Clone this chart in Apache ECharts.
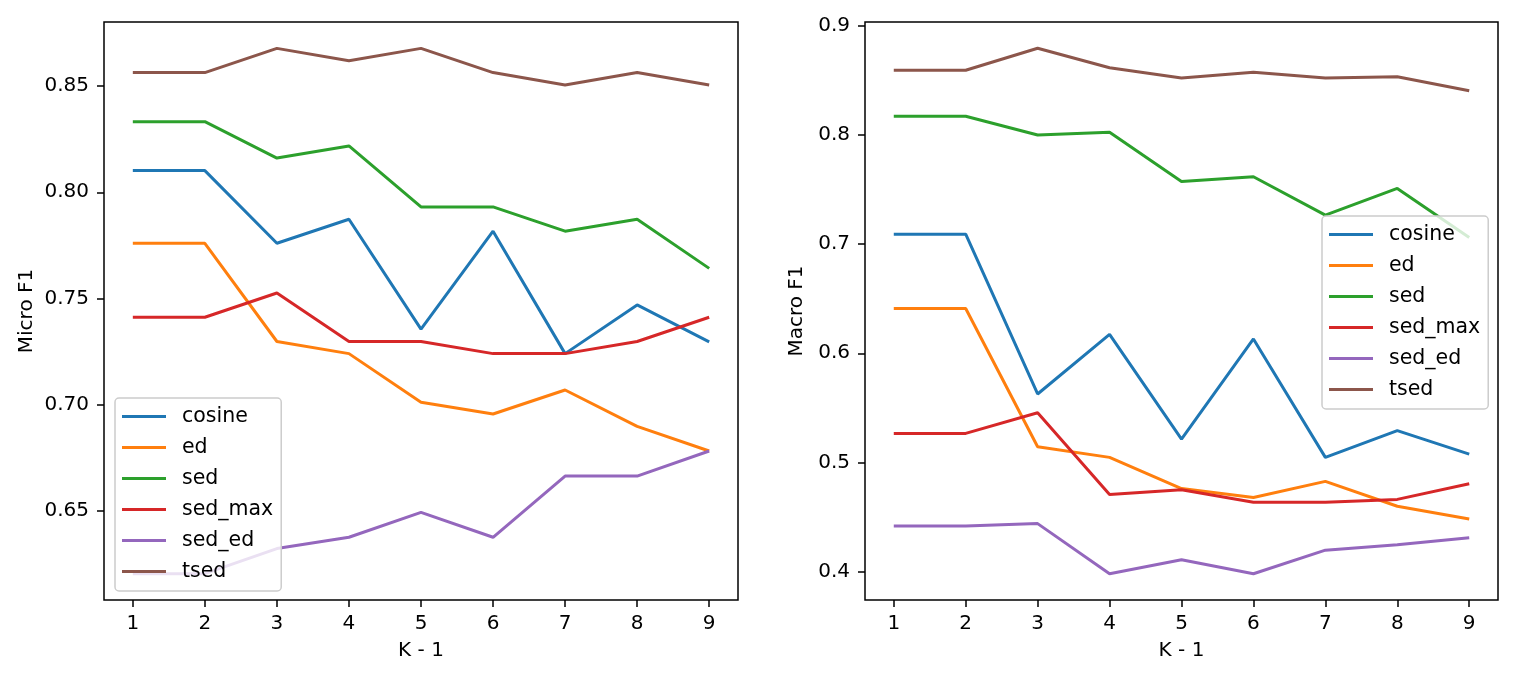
<!DOCTYPE html>
<html>
<head>
    <meta charset="utf-8">
    <title>Micro / Macro F1</title>
    <script src="https://cdn.jsdelivr.net/npm/echarts@6/dist/echarts.min.js"></script>
    <style>
        html, body { margin: 0; padding: 0; background: #fff; }
    </style>
</head>
<body>
    <div id="main" style="width: 1522px; height: 679px;"></div>
    <script type="text/javascript">
        // x values (K - 1)
        var ks = [1, 2, 3, 4, 5, 6, 7, 8, 9];
        var names = ['cosine', 'ed', 'sed', 'sed_max', 'sed_ed', 'tsed'];
        var colors = ['#1f77b4', '#ff7f0e', '#2ca02c', '#d62728', '#9467bd', '#8c564b'];

        // left plot: Micro F1
        var microCosine = [0.8102, 0.8102, 0.7760, 0.7873, 0.7356, 0.7817, 0.7241, 0.7470, 0.7296];
        var microEd     = [0.7760, 0.7760, 0.7298, 0.7241, 0.7012, 0.6957, 0.7070, 0.6899, 0.6783];
        var microSed    = [0.8332, 0.8332, 0.8161, 0.8218, 0.7931, 0.7931, 0.7817, 0.7873, 0.7642];
        var microSedMax = [0.7412, 0.7412, 0.7526, 0.7298, 0.7298, 0.7241, 0.7241, 0.7298, 0.7412];
        var microSedEd  = [0.6206, 0.6206, 0.6324, 0.6377, 0.6494, 0.6377, 0.6665, 0.6665, 0.6783];
        var microTsed   = [0.8563, 0.8563, 0.8677, 0.8619, 0.8677, 0.8563, 0.8505, 0.8563, 0.8505];

        // right plot: Macro F1
        var macroCosine = [0.7092, 0.7092, 0.5627, 0.6174, 0.5214, 0.6131, 0.5046, 0.5291, 0.5076];
        var macroEd     = [0.6410, 0.6410, 0.5144, 0.5046, 0.4760, 0.4678, 0.4826, 0.4598, 0.4481];
        var macroSed    = [0.8172, 0.8172, 0.8000, 0.8025, 0.7575, 0.7618, 0.7266, 0.7511, 0.7061];
        var macroSedMax = [0.5266, 0.5266, 0.5455, 0.4706, 0.4750, 0.4634, 0.4634, 0.4661, 0.4805];
        var macroSedEd  = [0.4417, 0.4417, 0.4439, 0.3980, 0.4108, 0.3980, 0.4196, 0.4245, 0.4309];
        var macroTsed   = [0.8594, 0.8594, 0.8795, 0.8617, 0.8523, 0.8575, 0.8523, 0.8535, 0.8406];

        // tick labels
        var xTicks = [1, 2, 3, 4, 5, 6, 7, 8, 9];
        var microTicks = [0.65, 0.70, 0.75, 0.80, 0.85];
        var macroTicks = [0.4, 0.5, 0.6, 0.7, 0.8, 0.9];

        var microData = [microCosine, microEd, microSed, microSedMax, microSedEd, microTsed];
        var macroData = [macroCosine, macroEd, macroSed, macroSedMax, macroSedEd, macroTsed];

        var font = 'DejaVu Sans';
        var fs = 20;

        function pairs(arr) {
            return ks.map(function (k, i) { return [k, arr[i]]; });
        }

        function xAxisFor(idx) {
            return {
                type: 'value', gridIndex: idx, min: 0.6, max: 9.4,
                name: 'K - 1', nameLocation: 'middle', nameGap: 41,
                nameTextStyle: { color: '#000', fontFamily: font, fontSize: fs },
                axisLine: { show: false },
                splitLine: { show: false },
                axisTick: { show: true, length: 7, lineStyle: { color: '#000', width: 1.5 }, customValues: xTicks },
                axisLabel: { color: '#000', fontFamily: font, fontSize: fs, margin: 14, customValues: xTicks }
            };
        }

        function yAxisFor(idx, min, max, ticks, digits, name, gap) {
            return {
                type: 'value', gridIndex: idx, min: min, max: max,
                name: name, nameLocation: 'middle', nameGap: gap, nameRotate: 90,
                nameTextStyle: { color: '#000', fontFamily: font, fontSize: fs },
                axisLine: { show: false },
                splitLine: { show: false },
                axisTick: { show: true, length: 7, lineStyle: { color: '#000', width: 1.5 }, customValues: ticks },
                axisLabel: {
                    color: '#000', fontFamily: font, fontSize: fs, margin: 15, customValues: ticks,
                    formatter: function (v) { return v.toFixed(digits); }
                }
            };
        }

        function legendAt(left, top) {
            return {
                orient: 'vertical', left: left, top: top,
                data: names,
                icon: 'rect', itemWidth: 44, itemHeight: 3, itemGap: 10,
                padding: [8, 8, 9, 7],
                backgroundColor: 'rgba(255,255,255,0.8)',
                borderColor: '#cccccc', borderWidth: 1.5, borderRadius: 4,
                textStyle: { color: '#000', fontFamily: font, fontSize: 20.5, padding: [0, 0, 0, 11] }
            };
        }

        var series = [];
        [microData, macroData].forEach(function (group, g) {
            group.forEach(function (arr, i) {
                series.push({
                    name: names[i], type: 'line',
                    xAxisIndex: g, yAxisIndex: g,
                    data: pairs(arr),
                    showSymbol: false, symbol: 'none',
                    lineStyle: { color: colors[i], width: 3 },
                    itemStyle: { color: colors[i] },
                    animation: false
                });
            });
        });

        var myChart = echarts.init(document.getElementById('main'));
        var option = {
            backgroundColor: '#fff',
            animation: false,
            grid: [
                { left: 104, top: 22, width: 634, height: 578, show: true, borderColor: '#000', borderWidth: 1.5, backgroundColor: 'transparent' },
                { left: 865, top: 22, width: 633, height: 578, show: true, borderColor: '#000', borderWidth: 1.5, backgroundColor: 'transparent' }
            ],
            legend: [legendAt(115, 398), legendAt(1322, 216)],
            xAxis: [xAxisFor(0), xAxisFor(1)],
            yAxis: [
                yAxisFor(0, 0.6082, 0.8801, microTicks, 2, 'Micro F1', 67),
                yAxisFor(1, 0.3739, 0.9036, macroTicks, 1, 'Macro F1', 58)
            ],
            series: series
        };
        myChart.setOption(option);
    </script>
</body>
</html>
